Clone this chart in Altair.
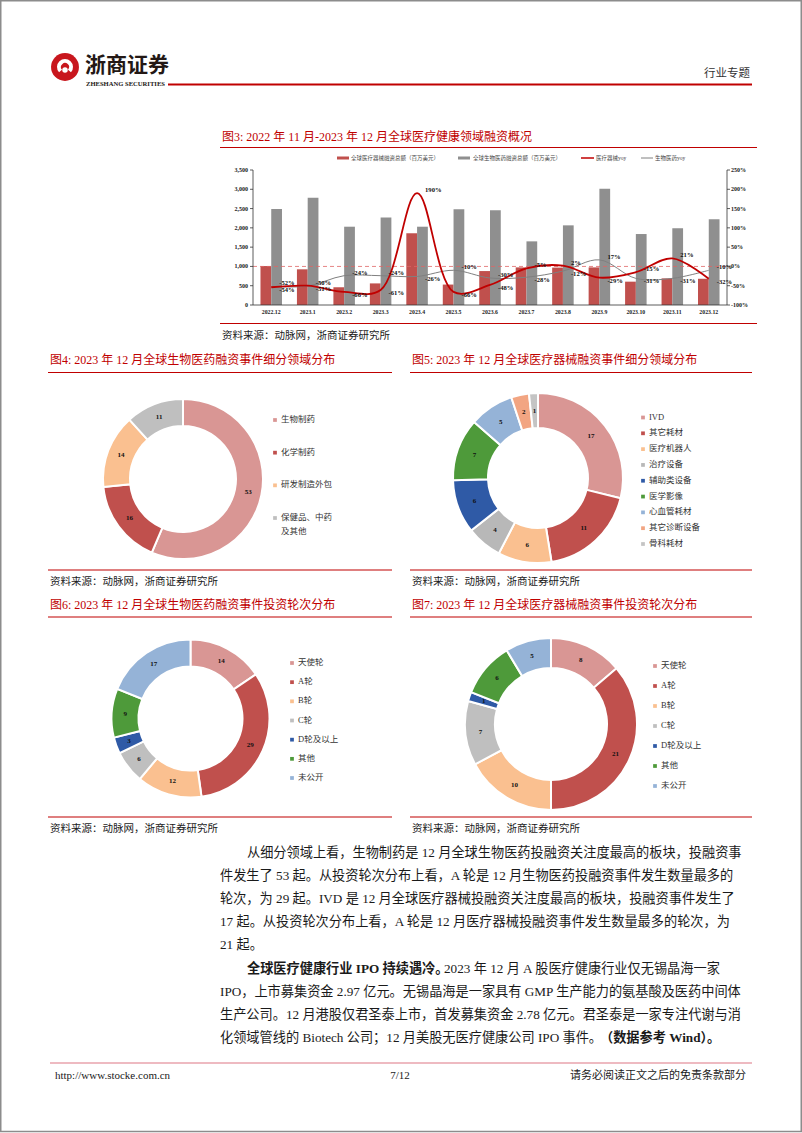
import altair as alt
import pandas as pd

SERIF = "Liberation Serif, Noto Sans CJK SC"
SANS = "Noto Sans CJK SC"
RED = "#c00000"
BLK = "#1a1a1a"

# ---------------- Figure 3 data ----------------
months = ["2022.12", "2023.1", "2023.2", "2023.3", "2023.4", "2023.5", "2023.6",
          "2023.7", "2023.8", "2023.9", "2023.10", "2023.11", "2023.12"]
device_amt = [1010, 925, 460, 560, 1860, 530, 880, 975, 970, 975, 605, 690, 680]
bio_amt = [2490, 2780, 2030, 2270, 2030, 2480, 2455, 1650, 2065, 3015, 1840, 1990, 2220]
device_yoy = [-54, -50, -66, -61, 190, -66, -48, -5, 2, -29, -15, 21, -32]
bio_yoy = [-52, -51, -24, -24, -26, -10, -30, -28, -12, 17, -31, -31, -10]
left_ticks = [0, 500, 1000, 1500, 2000, 2500, 3000, 3500]
right_ticks = [-100, -50, 0, 50, 100, 150, 200, 250]
legend3 = ["全球医疗器械融资总额（百万美元）", "全球生物医药融资总额（百万美元）", "医疗器械yoy", "生物医药yoy"]

# ---------------- Donut data ----------------
f4_cats = ["生物制药", "化学制药", "研发制造外包", "保健品、中药及其他"]
f4_labels = ["生物制药", "化学制药", "研发制造外包", "保健品、中药\n及其他"]
f4_vals = [53, 16, 14, 11]

f5_cats = ["IVD", "其它耗材", "医疗机器人", "治疗设备", "辅助类设备", "医学影像", "心血管耗材", "其它诊断设备", "骨科耗材"]
f5_vals = [17, 11, 6, 4, 6, 7, 5, 2, 1]

round_cats = ["天使轮", "A轮", "B轮", "C轮", "D轮及以上", "其他", "未公开"]
f6_vals = [14, 29, 12, 6, 3, 9, 17]
f7_vals = [8, 21, 10, 7, 1, 6, 5]

PINK, DRED, PEACH, GRAY, BLUE, GREEN, LBLUE, SALMON = (
    "#d99694", "#c0504d", "#fac090", "#bfbfbf", "#2f5aa6", "#4e9a3a", "#95b3d7", "#f2a582")
f4_colors = [PINK, DRED, PEACH, GRAY]
f5_colors = [PINK, DRED, PEACH, "#b8b8b8", BLUE, GREEN, LBLUE, SALMON, "#c4c4c4"]
round_colors = [PINK, DRED, PEACH, GRAY, BLUE, GREEN, LBLUE]

one = pd.DataFrame({"k": [0]})
layers = []


def text(s, x, y, size, color=BLK, align="left", weight="normal", font=SERIF, baseline="middle"):
    return alt.Chart(one).mark_text(text=s, fontSize=size, color=color, align=align,
                                    fontWeight=weight, font=font, baseline=baseline).encode(
        x=alt.value(x), y=alt.value(y))


def rule(x1, y1, x2, y2, color, w, dash=None):
    kw = dict(color=color, strokeWidth=w)
    if dash:
        kw["strokeDash"] = dash
    return alt.Chart(one).mark_rule(**kw).encode(
        x=alt.value(x1), y=alt.value(y1), x2=alt.value(x2), y2=alt.value(y2))


# ---------------- page frame, header, footer ----------------
layers.append(alt.Chart(one).mark_rect(fillOpacity=0, stroke="#8c8c8c", strokeWidth=1.5).encode(
    x=alt.value(0.75), y=alt.value(0.75), x2=alt.value(801.25), y2=alt.value(1131.5)))
layers.append(alt.Chart(one).mark_circle(size=780, color="#c8161d", opacity=1).encode(
    x=alt.value(65), y=alt.value(67)))
layers.append(alt.Chart(one).mark_arc(theta=3.98, theta2=8.58, radius=4, radius2=8, color="white").encode(
    x=alt.value(65), y=alt.value(67)))
layers.append(alt.Chart(one).mark_circle(size=30, color="white", opacity=1).encode(
    x=alt.value(65), y=alt.value(70)))
layers.append(text("浙商证券", 85, 66, 21, color="#231815", weight="bold", font=SANS))
layers.append(text("ZHESHANG SECURITIES", 86, 84, 6.6, color="#231815", weight="bold", font="Liberation Serif"))
layers.append(rule(168, 84.5, 752, 84.5, RED, 2))
layers.append(text("行业专题", 750, 74, 11.5, color="#333", align="right"))

layers.append(rule(50, 1063, 752, 1063, "#e8a3ac", 1.5))
layers.append(text("http://www.stocke.com.cn", 55, 1076, 11, font="Liberation Serif"))
layers.append(text("7/12", 400, 1076, 11, align="center", font="Liberation Serif"))
layers.append(text("请务必阅读正文之后的免责条款部分", 746, 1076, 11, align="right"))

# ---------------- Figure 3 ----------------
layers.append(text("图3:  2022 年 11 月-2023 年 12 月全球医疗健康领域融资概况", 222, 137, 12, color=RED))
layers.append(rule(220, 147.5, 757, 147.5, RED, 1.2))
layers.append(rule(220, 323.5, 757, 323.5, RED, 1.2))
layers.append(text("资料来源：动脉网，浙商证券研究所", 222, 336, 10.5))

XS = alt.Scale(type="band", domain=months, range=[253, 727], paddingInner=0.41, paddingOuter=0.205)
YL = alt.Scale(domain=[0, 3500], range=[305, 170])
YR = alt.Scale(domain=[-100, 250], range=[305, 170])

bars_df = pd.DataFrame({
    "month": months * 2,
    "series": [legend3[0]] * len(months) + [legend3[1]] * len(months),
    "amt": device_amt + bio_amt,
})
layers.append(alt.Chart(bars_df).mark_bar().encode(
    x=alt.X("month:N", scale=XS, axis=None),
    xOffset=alt.XOffset("series:N", scale=alt.Scale(domain=legend3[:2], paddingInner=0)),
    y=alt.Y("amt:Q", scale=YL, axis=None),
    color=alt.Color("series:N", scale=alt.Scale(domain=legend3[:2], range=["#c0504d", "#8f8f8f"]), legend=None),
))

zero_df = pd.DataFrame({"z": [0]})
layers.append(alt.Chart(zero_df).mark_rule(color="#e06666", strokeWidth=0.8, strokeDash=[4, 3]).encode(
    y=alt.Y("z:Q", scale=YR, axis=None), x=alt.value(253), x2=alt.value(727)))

dev_df = pd.DataFrame({"month": months, "yoy": device_yoy})
bio_df = pd.DataFrame({"month": months, "yoy": bio_yoy})
xl = alt.X("month:N", scale=XS, axis=None, bandPosition=0.5)
yr = alt.Y("yoy:Q", scale=YR, axis=None)
layers.append(alt.Chart(bio_df).mark_line(interpolate="catmull-rom", color="#808080", strokeWidth=1).encode(x=xl, y=yr))
layers.append(alt.Chart(dev_df).mark_line(interpolate="catmull-rom", color=RED, strokeWidth=1.8).encode(x=xl, y=yr))

# value labels: the higher of the two series per month is nudged up, the lower one down
upper, lower = [], []
for m, d, b in zip(months, device_yoy, bio_yoy):
    hi, lo = (d, b) if d >= b else (b, d)
    upper.append({"month": m, "yoy": hi, "lab": f"{hi}%"})
    lower.append({"month": m, "yoy": lo, "lab": f"{lo}%"})
for rows, dy in ((upper, -3), (lower, 3)):
    layers.append(alt.Chart(pd.DataFrame(rows)).mark_text(
        align="left", dx=8, dy=dy, fontSize=6.6, fontWeight="bold", font="Liberation Serif", color="#111"
    ).encode(x=xl, y=yr, text="lab:N"))

# axes
lt_df = pd.DataFrame({"v": left_ticks, "lab": [f"{v:,}" for v in left_ticks]})
rt_df = pd.DataFrame({"v": right_ticks, "lab": [f"{v}%" for v in right_ticks]})
layers.append(alt.Chart(pd.DataFrame({"a": [min(left_ticks)], "b": [max(left_ticks)]})).mark_rule(
    color="#333", strokeWidth=0.8).encode(x=alt.value(253), y=alt.Y("a:Q", scale=YL, axis=None), y2="b:Q"))
layers.append(alt.Chart(pd.DataFrame({"a": [min(right_ticks)], "b": [max(right_ticks)]})).mark_rule(
    color="#333", strokeWidth=0.8).encode(x=alt.value(727), y=alt.Y("a:Q", scale=YR, axis=None), y2="b:Q"))
layers.append(alt.Chart(lt_df).mark_rule(color="#333", strokeWidth=0.8).encode(
    x=alt.value(250), x2=alt.value(253), y=alt.Y("v:Q", scale=YL, axis=None)))
layers.append(alt.Chart(rt_df).mark_rule(color="#333", strokeWidth=0.8).encode(
    x=alt.value(727), x2=alt.value(730), y=alt.Y("v:Q", scale=YR, axis=None)))
layers.append(alt.Chart(lt_df).mark_text(align="right", fontSize=6, fontWeight="bold", font="Liberation Serif",
                                         color="#222").encode(x=alt.value(248), y=alt.Y("v:Q", scale=YL, axis=None), text="lab:N"))
layers.append(alt.Chart(rt_df).mark_text(align="left", fontSize=6, fontWeight="bold", font="Liberation Serif",
                                         color="#222").encode(x=alt.value(731), y=alt.Y("v:Q", scale=YR, axis=None), text="lab:N"))
layers.append(alt.Chart(zero_df).mark_rule(color="#333", strokeWidth=0.8).encode(
    y=alt.Y("z:Q", scale=YL, axis=None), x=alt.value(253), x2=alt.value(727)))
mdf = pd.DataFrame({"month": months})
layers.append(alt.Chart(mdf).mark_text(fontSize=5.8, fontWeight="bold", font="Liberation Serif", color="#222").encode(
    x=xl, y=alt.value(312), text="month:N"))

# legend fig3
layers.append(rule(337, 158, 349, 158, "#c0504d", 3))
layers.append(text(legend3[0], 351, 158, 5.5, color="#444"))
layers.append(rule(458, 158, 470, 158, "#8f8f8f", 3))
layers.append(text(legend3[1], 473, 158, 5.5, color="#444"))
layers.append(rule(581, 158, 594, 158, RED, 1.5))
layers.append(text(legend3[2], 596, 158, 5.5, color="#444"))
layers.append(rule(641, 158, 653, 158, "#808080", 1))
layers.append(text(legend3[3], 655, 158, 5.5, color="#444"))


# ---------------- Donuts ----------------
def donut(cats, vals, labels, colors, cx, cy, ro, ri, lx, ly0, ly1):
    df = pd.DataFrame({"cat": cats, "v": vals, "i": list(range(len(cats))), "lab": labels})
    th = alt.Theta("v:Q", stack=True)
    od = alt.Order("i:Q")
    col = alt.Color("cat:N", scale=alt.Scale(domain=cats, range=colors), legend=None)
    out = [
        alt.Chart(df).mark_arc(outerRadius=ro, innerRadius=ri, stroke="white", strokeWidth=2).encode(
            theta=th, order=od, color=col, x=alt.value(cx), y=alt.value(cy)),
        alt.Chart(df).mark_text(radius=(ro + ri) / 2, fontSize=7, fontWeight="bold", font="Liberation Serif",
                                color="#111").encode(theta=th, order=od, text="v:Q", x=alt.value(cx), y=alt.value(cy)),
    ]
    ys = alt.Y("cat:N", scale=alt.Scale(type="point", domain=cats, range=[ly0, ly1], padding=0), axis=None)
    out.append(alt.Chart(df).mark_square(size=14, opacity=1).encode(x=alt.value(lx), y=ys, color=col))
    out.append(alt.Chart(df).mark_text(align="left", baseline="top", dy=-5, fontSize=8.5, font=SERIF,
                                       lineBreak="\n", lineHeight=14, color="#333").encode(
        x=alt.value(lx + 6), y=ys, text="lab:N"))
    return out


def panel_frame(x0, x1, title, ty, uy, sy):
    return [
        text(title, x0 + 2, ty, 12, color=RED),
        rule(x0, uy, x1, uy, RED, 1.2),
        rule(x0, sy, x1, sy, RED, 1.2),
        text("资料来源：动脉网，浙商证券研究所", x0 + 2, sy + 12, 10.5),
    ]


layers += panel_frame(48, 392, "图4:  2023 年 12 月全球生物医药融资事件细分领域分布", 360, 372.5, 570)
layers += panel_frame(410, 752, "图5:  2023 年 12 月全球医疗器械融资事件细分领域分布", 360, 372.5, 570)
layers += panel_frame(48, 392, "图6:  2023 年 12 月全球生物医药融资事件投资轮次分布", 605, 617, 817)
layers += panel_frame(410, 752, "图7:  2023 年 12 月全球医疗器械融资事件投资轮次分布", 605, 617, 817)

layers += donut(f4_cats, f4_vals, f4_labels, f4_colors, 183, 479, 80, 53, 275, 420, 518)
layers += donut(f5_cats, f5_vals, f5_cats, f5_colors, 538, 478, 85, 50, 643, 417.5, 544)
layers += donut(round_cats, f6_vals, round_cats, round_colors, 190.5, 718.5, 79, 52, 292, 663, 778)
layers += donut(round_cats, f7_vals, round_cats, round_colors, 551, 724, 86, 56, 655, 666, 786)

# ---------------- Body text ----------------
BS = 13.2
body = [
    ("从细分领域上看，生物制药是 12 月全球生物医药投融资关注度最高的板块，投融资事", 247, 853),
    ("件发生了 53 起。从投资轮次分布上看，A 轮是 12 月生物医药投融资事件发生数量最多的", 220, 876),
    ("轮次，为 29 起。IVD 是 12 月全球医疗器械投融资关注度最高的板块，投融资事件发生了", 220, 899),
    ("17 起。从投资轮次分布上看，A 轮是 12 月医疗器械投融资事件发生数量最多的轮次，为", 220, 922),
    ("21 起。", 220, 945),
    ("2023 年 12 月 A 股医疗健康行业仅无锡晶海一家", 444, 969),
    ("IPO，上市募集资金 2.97 亿元。无锡晶海是一家具有 GMP 生产能力的氨基酸及医药中间体", 220, 992),
    ("生产公司。12 月港股仅君圣泰上市，首发募集资金 2.78 亿元。君圣泰是一家专注代谢与消", 220, 1015),
    ("化领域管线的 Biotech 公司；12 月美股无医疗健康公司 IPO 事件。", 220, 1038),
]
for s, x, y in body:
    layers.append(text(s, x, y, BS))
layers.append(text("全球医疗健康行业 IPO 持续遇冷。", 247, 969, BS, weight="bold"))
layers.append(text("（数据参考 Wind）。", 600, 1038, BS, weight="bold"))

chart = alt.layer(*layers).resolve_scale(
    x="independent", y="independent", color="independent", theta="independent", xOffset="independent"
).properties(
    width=802, height=1133, padding=0, autosize="none", background="white"
).configure_view(stroke=None)

chart.save("out.html", embed_options={"renderer": "svg", "actions": False})
